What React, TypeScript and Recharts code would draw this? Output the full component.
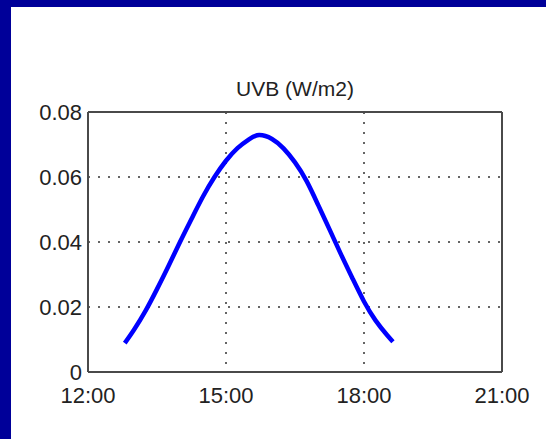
import { CartesianGrid, Line, LineChart, XAxis, YAxis } from "recharts";

// hours of day (decimal) and UVB irradiance
const hours = [12.8, 13.0, 13.25, 13.5, 13.75, 14.0, 14.25, 14.5, 14.75, 15.0, 15.25, 15.5, 15.72, 16.0, 16.25, 16.5, 16.75, 17.0, 17.25, 17.5, 17.75, 18.0, 18.25, 18.5, 18.63];
const uvb = [0.0089, 0.013, 0.0188, 0.0255, 0.0326, 0.04, 0.0471, 0.054, 0.06, 0.065, 0.0689, 0.0716, 0.0729, 0.0717, 0.0688, 0.0645, 0.0588, 0.0515, 0.0439, 0.0362, 0.0288, 0.0217, 0.0159, 0.0114, 0.0093];
const xTicks = [12, 15, 18, 21];
const yTicks = [0, 0.02, 0.04, 0.06, 0.08];

const data = hours.map((t, i) => ({ t, uvb: uvb[i] }));

const font = "'Liberation Sans', Arial, sans-serif";
const ink = "#222";
const axisColor = "#4a4a4a";

export default function App() {
  return (
    <div style={{ position: "fixed", left: 0, top: 0, width: 546, height: 439, background: "#000099", overflow: "hidden" }}>
      <div style={{ position: "absolute", left: 11, top: 7, right: 0, bottom: 0, background: "#fff" }} />
      <svg width={546} height={120} style={{ position: "absolute", left: 0, top: 0 }}>
        <text x={295} y={96} textAnchor="middle" fontFamily={font} fontSize={21} fill={ink}>
          UVB (W/m2)
        </text>
      </svg>
      <div style={{ position: "absolute", left: 0, top: 0 }}>
        <LineChart width={546} height={439} data={data} margin={{ top: 112, right: 44, bottom: 37, left: 0 }}>
          <CartesianGrid stroke="#333" strokeDasharray="2 8" strokeWidth={1.5} />
          <XAxis
            dataKey="t"
            type="number"
            domain={[12, 21]}
            ticks={xTicks}
            tickFormatter={(v: number) => `${v}:00`}
            height={30}
            tickLine={false}
            tickSize={6}
            tickMargin={9}
            stroke={axisColor}
            strokeWidth={2}
            tick={{ fill: ink, fontSize: 22, fontFamily: font }}
          />
          <XAxis
            xAxisId="top"
            orientation="top"
            mirror
            type="number"
            domain={[12, 21]}
            ticks={xTicks}
            tick={false}
            tickSize={5}
            stroke={axisColor}
            strokeWidth={2}
          />
          <YAxis
            type="number"
            domain={[0, 0.08]}
            ticks={yTicks}
            tickFormatter={(v: number) => (v === 0 ? "0" : v.toFixed(2))}
            width={88}
            tickLine={false}
            tickSize={0}
            tickMargin={6}
            stroke={axisColor}
            strokeWidth={2}
            tick={{ fill: ink, fontSize: 22, fontFamily: font }}
          />
          <YAxis
            yAxisId="right"
            orientation="right"
            mirror
            type="number"
            domain={[0, 0.08]}
            ticks={yTicks}
            tick={false}
            tickSize={5}
            stroke={axisColor}
            strokeWidth={2}
          />
          <Line
            type="natural"
            dataKey="uvb"
            stroke="#0000ff"
            strokeWidth={4.5}
            dot={false}
            isAnimationActive={false}
          />
        </LineChart>
      </div>
    </div>
  );
}
